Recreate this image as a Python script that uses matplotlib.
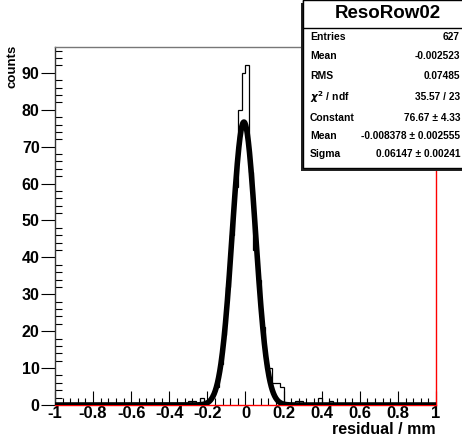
import numpy as np
import matplotlib.pyplot as plt
from matplotlib.patches import Rectangle

# histogram: 100 bins of 0.02 from -1 to 1, counts
edges = np.linspace(-1.0, 1.0, 101)
counts = np.zeros(100)
nonzero = {
    -0.29: 1, -0.27: 1, -0.23: 2, -0.21: 1,
    -0.19: 1, -0.17: 3, -0.15: 5, -0.13: 11, -0.11: 19, -0.09: 32,
    -0.07: 46, -0.05: 59, -0.03: 80, -0.01: 90, 0.01: 92, 0.03: 63,
    0.05: 42, 0.07: 34, 0.09: 21, 0.11: 11, 0.13: 10, 0.15: 6,
    0.17: 6, 0.19: 5, 0.27: 1, 0.29: 1, 0.39: 2, 0.45: 1,
}
centers = (edges[:-1] + edges[1:]) / 2
for c, n in nonzero.items():
    counts[np.argmin(np.abs(centers - c))] = n

# gaussian fit parameters (from the stats box)
fit_const = 76.67
fit_mean = -0.008378
fit_sigma = 0.06147

stat_names = ["Entries", "Mean", "RMS", "$\\chi^2$ / ndf", "Constant", "Mean", "Sigma"]
stat_vals = ["627", "-0.002523", "0.07485", "35.57 / 23", "76.67 \u00b1 4.33",
             "-0.008378 \u00b1 0.002555", "0.06147 \u00b1 0.00241"]
stat_y = [37, 56, 76, 97, 118, 136, 154]

plt.rcParams['font.family'] = ['Liberation Sans', 'DejaVu Sans']
plt.rcParams['font.weight'] = 'bold'

W, H = 462, 443
fig = plt.figure(figsize=(W / 100, H / 100), dpi=100)
ax = fig.add_axes([55 / W, 1 - 405 / H, (436 - 55) / W, (405 - 47) / H])

ax.stairs(counts, edges, color='black', lw=0.9)
xf = np.linspace(-1, 1, 1000)
yf = fit_const * np.exp(-0.5 * ((xf - fit_mean) / fit_sigma) ** 2)
ax.plot(xf, yf, color='black', lw=4, solid_capstyle='round', zorder=4)

ax.set_xlim(-1, 1)
ax.set_ylim(0, 97)
ax.set_xticks(np.arange(-1, 1.01, 0.2))
ax.set_xticks(np.arange(-1, 1.01, 0.04), minor=True)
ax.set_yticks(np.arange(0, 91, 10))
ax.set_yticks(np.arange(0, 97, 2), minor=True)
ax.set_xticklabels(['-1', '-0.8', '-0.6', '-0.4', '-0.2', '0', '0.2', '0.4', '0.6', '0.8', '1'])
ax.tick_params(axis='x', which='major', direction='in', length=10, width=0.8, labelsize=12, pad=1)
ax.tick_params(axis='x', which='minor', direction='in', length=5, width=0.8)
ax.tick_params(axis='y', which='major', direction='out', length=10, width=0.8, labelsize=11.5, pad=1)
ax.tick_params(axis='y', which='minor', direction='in', length=5, width=0.8)
ax.tick_params(top=False, right=False, which='both')

ax.spines['bottom'].set_color('red')
ax.spines['right'].set_color('red')
ax.spines['left'].set_color('#333333')
ax.spines['top'].set_color('#777777')
for s in ax.spines.values():
    s.set_linewidth(1.0)

fig.text(436 / W, 1 - 429 / H, 'residual / mm', ha='right', va='center', fontsize=11.5)
fig.text(13 / W, 1 - 45 / H, 'counts', rotation=90, ha='center', va='top', fontsize=9.5)

# stats box (runs past the right edge, as in the original)
bx0, bx1 = 303 / W, 475 / W
by0, by1 = 1 - 168 / H, 1.0
fig.add_artist(Rectangle((bx0 - 2 / W, by0 - 3 / H), bx1 - bx0, by1 - by0,
                         transform=fig.transFigure, facecolor='#222222', edgecolor='none', zorder=9))
fig.add_artist(Rectangle((bx0, by0), bx1 - bx0, by1 - by0, transform=fig.transFigure,
                         facecolor='white', edgecolor='black', lw=1, zorder=10))
fig.add_artist(Rectangle((bx0, 1 - 28 / H), bx1 - bx0, 28 / H, transform=fig.transFigure,
                         facecolor='white', edgecolor='black', lw=1, zorder=11))
fig.text(388 / W, 1 - 13 / H, 'ResoRow02', ha='center', va='center', fontsize=13.5, zorder=12)
for name, val, y in zip(stat_names, stat_vals, stat_y):
    fig.text(310 / W, 1 - y / H, name, ha='left', va='center', fontsize=7.5, zorder=12)
    fig.text(460 / W, 1 - y / H, val, ha='right', va='center', fontsize=7.3, zorder=12)

fig.savefig('out.png', dpi=100)
